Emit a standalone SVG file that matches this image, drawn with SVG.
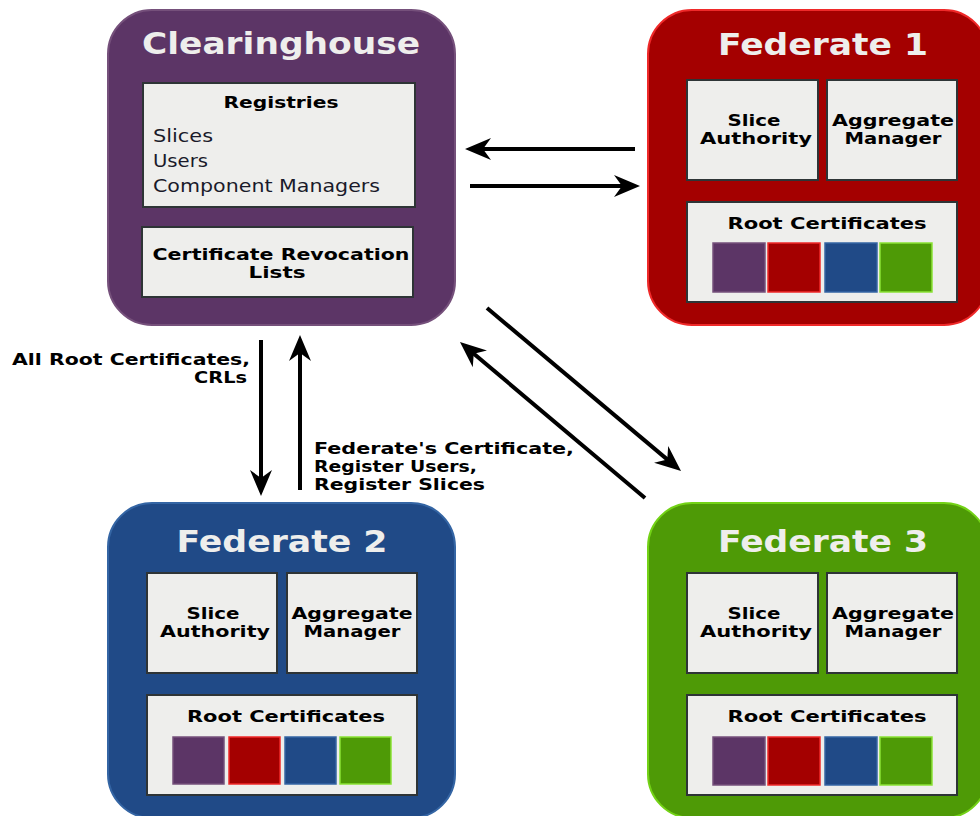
<svg xmlns="http://www.w3.org/2000/svg" width="980" height="816" viewBox="0 0 980 816">
<defs>
<marker id="ah" markerUnits="userSpaceOnUse" viewBox="-20 -12 30 24" markerWidth="30" markerHeight="24" refX="0" refY="0" orient="auto" overflow="visible">
<path d="M8,0 L-18,-11 L-10,0 L-18,11 Z" fill="#000"/>
</marker>
<style>
text{font-family:"DejaVu Sans","Liberation Sans",sans-serif;}
.title{font-size:30px;font-weight:bold;fill:#eeeeec;text-anchor:middle;}
.inner{fill:#eeeeec;stroke:#2e3436;stroke-width:2;}
.lbl{font-size:15px;font-weight:bold;fill:#000;text-anchor:middle;}
.reg{font-size:17px;fill:#1a1a2a;}
.note{font-size:15px;font-weight:bold;fill:#000;}
.conn{stroke:#000;stroke-width:4;fill:none;marker-end:url(#ah);}
.sw1{fill:#5c3566;stroke:#75507b;stroke-width:1.5;}
.sw2{fill:#a40000;stroke:#ef2929;stroke-width:1.5;}
.sw3{fill:#204a87;stroke:#3465a4;stroke-width:1.5;}
.sw4{fill:#4e9a06;stroke:#8ae234;stroke-width:1.5;}
</style>
</defs>
<rect width="980" height="816" fill="#ffffff"/>

<g id="clearinghouse">
<rect x="108" y="10" width="347" height="315" rx="44" fill="#5c3566" stroke="#75507b" stroke-width="2"/>
<text class="title" x="281" y="54" textLength="278" lengthAdjust="spacingAndGlyphs">Clearinghouse</text>
<rect class="inner" x="143" y="83" width="272" height="124"/>
<text class="lbl" x="281" y="108" style="font-size:16px" textLength="115" lengthAdjust="spacingAndGlyphs">Registries</text>
<text class="reg" x="153" y="142" textLength="60" lengthAdjust="spacingAndGlyphs">Slices</text>
<text class="reg" x="153" y="167" textLength="55" lengthAdjust="spacingAndGlyphs">Users</text>
<text class="reg" x="153" y="192" textLength="227" lengthAdjust="spacingAndGlyphs">Component Managers</text>
<rect class="inner" x="142" y="227" width="271" height="70"/>
<text class="lbl" x="281" y="260" textLength="257" lengthAdjust="spacingAndGlyphs">Certificate Revocation</text>
<text class="lbl" x="277" y="278" textLength="57" lengthAdjust="spacingAndGlyphs">Lists</text>
</g>

<g id="federate1">
<rect x="648" y="10" width="340" height="315" rx="44" fill="#a40000" stroke="#ef2929" stroke-width="2"/>
<text class="title" x="823" y="55" textLength="210" lengthAdjust="spacingAndGlyphs">Federate 1</text>
<rect class="inner" x="687" y="80" width="131" height="100"/>
<rect class="inner" x="827" y="80" width="130" height="100"/>
<text class="lbl" x="754" y="126" textLength="53" lengthAdjust="spacingAndGlyphs">Slice</text>
<text class="lbl" x="756" y="144" textLength="112" lengthAdjust="spacingAndGlyphs">Authority</text>
<text class="lbl" x="893" y="126" textLength="122" lengthAdjust="spacingAndGlyphs">Aggregate</text>
<text class="lbl" x="893" y="144" textLength="97" lengthAdjust="spacingAndGlyphs">Manager</text>
<rect class="inner" x="687" y="202" width="270" height="100"/>
<text class="lbl" x="827" y="229" style="font-size:16px" textLength="199" lengthAdjust="spacingAndGlyphs">Root Certificates</text>
<rect class="sw1" x="713" y="243" width="52" height="49"/>
<rect class="sw2" x="768" y="243" width="52" height="49"/>
<rect class="sw3" x="825" y="243" width="52" height="49"/>
<rect class="sw4" x="880" y="243" width="52" height="49"/>
</g>

<g id="federate2">
<rect x="108" y="503" width="347" height="315" rx="44" fill="#204a87" stroke="#3465a4" stroke-width="2"/>
<text class="title" x="282" y="552" textLength="211" lengthAdjust="spacingAndGlyphs">Federate 2</text>
<rect class="inner" x="147" y="573" width="130" height="100"/>
<rect class="inner" x="287" y="573" width="130" height="100"/>
<text class="lbl" x="213" y="619" textLength="53" lengthAdjust="spacingAndGlyphs">Slice</text>
<text class="lbl" x="215" y="637" textLength="110" lengthAdjust="spacingAndGlyphs">Authority</text>
<text class="lbl" x="352" y="619" textLength="121" lengthAdjust="spacingAndGlyphs">Aggregate</text>
<text class="lbl" x="352" y="637" textLength="97" lengthAdjust="spacingAndGlyphs">Manager</text>
<rect class="inner" x="147" y="695" width="270" height="100"/>
<text class="lbl" x="286" y="722" style="font-size:16px" textLength="198" lengthAdjust="spacingAndGlyphs">Root Certificates</text>
<rect class="sw1" x="173" y="737" width="51" height="47"/>
<rect class="sw2" x="229" y="737" width="51" height="47"/>
<rect class="sw3" x="285" y="737" width="51" height="47"/>
<rect class="sw4" x="340" y="737" width="51" height="47"/>
</g>

<g id="federate3">
<rect x="648" y="503" width="340" height="315" rx="44" fill="#4e9a06" stroke="#73d216" stroke-width="2"/>
<text class="title" x="823" y="552" textLength="210" lengthAdjust="spacingAndGlyphs">Federate 3</text>
<rect class="inner" x="687" y="573" width="131" height="100"/>
<rect class="inner" x="827" y="573" width="130" height="100"/>
<text class="lbl" x="754" y="619" textLength="53" lengthAdjust="spacingAndGlyphs">Slice</text>
<text class="lbl" x="756" y="637" textLength="112" lengthAdjust="spacingAndGlyphs">Authority</text>
<text class="lbl" x="893" y="619" textLength="122" lengthAdjust="spacingAndGlyphs">Aggregate</text>
<text class="lbl" x="893" y="637" textLength="97" lengthAdjust="spacingAndGlyphs">Manager</text>
<rect class="inner" x="687" y="695" width="270" height="100"/>
<text class="lbl" x="827" y="722" style="font-size:16px" textLength="199" lengthAdjust="spacingAndGlyphs">Root Certificates</text>
<rect class="sw1" x="713" y="737" width="52" height="48"/>
<rect class="sw2" x="768" y="737" width="52" height="48"/>
<rect class="sw3" x="825" y="737" width="52" height="48"/>
<rect class="sw4" x="880" y="737" width="52" height="48"/>
</g>

<g id="connectors">
<line class="conn" x1="635" y1="149" x2="473" y2="149"/>
<line class="conn" x1="470" y1="186" x2="632" y2="186"/>
<line class="conn" x1="261" y1="340" x2="261" y2="488"/>
<line class="conn" x1="300" y1="490" x2="300" y2="343"/>
<line class="conn" x1="487" y1="308" x2="674.9" y2="465.9"/>
<line class="conn" x1="645" y1="498" x2="466.1" y2="347.2"/>
</g>

<g id="labels">
<text class="note" x="250" y="365" text-anchor="end" textLength="238" lengthAdjust="spacingAndGlyphs">All Root Certificates,</text>
<text class="note" x="247" y="383" text-anchor="end" textLength="53" lengthAdjust="spacingAndGlyphs">CRLs</text>
<text class="note" x="314" y="454" textLength="260" lengthAdjust="spacingAndGlyphs">Federate's Certificate,</text>
<text class="note" x="314" y="472" textLength="163" lengthAdjust="spacingAndGlyphs">Register Users,</text>
<text class="note" x="314" y="490" textLength="171" lengthAdjust="spacingAndGlyphs">Register Slices</text>
</g>
</svg>
